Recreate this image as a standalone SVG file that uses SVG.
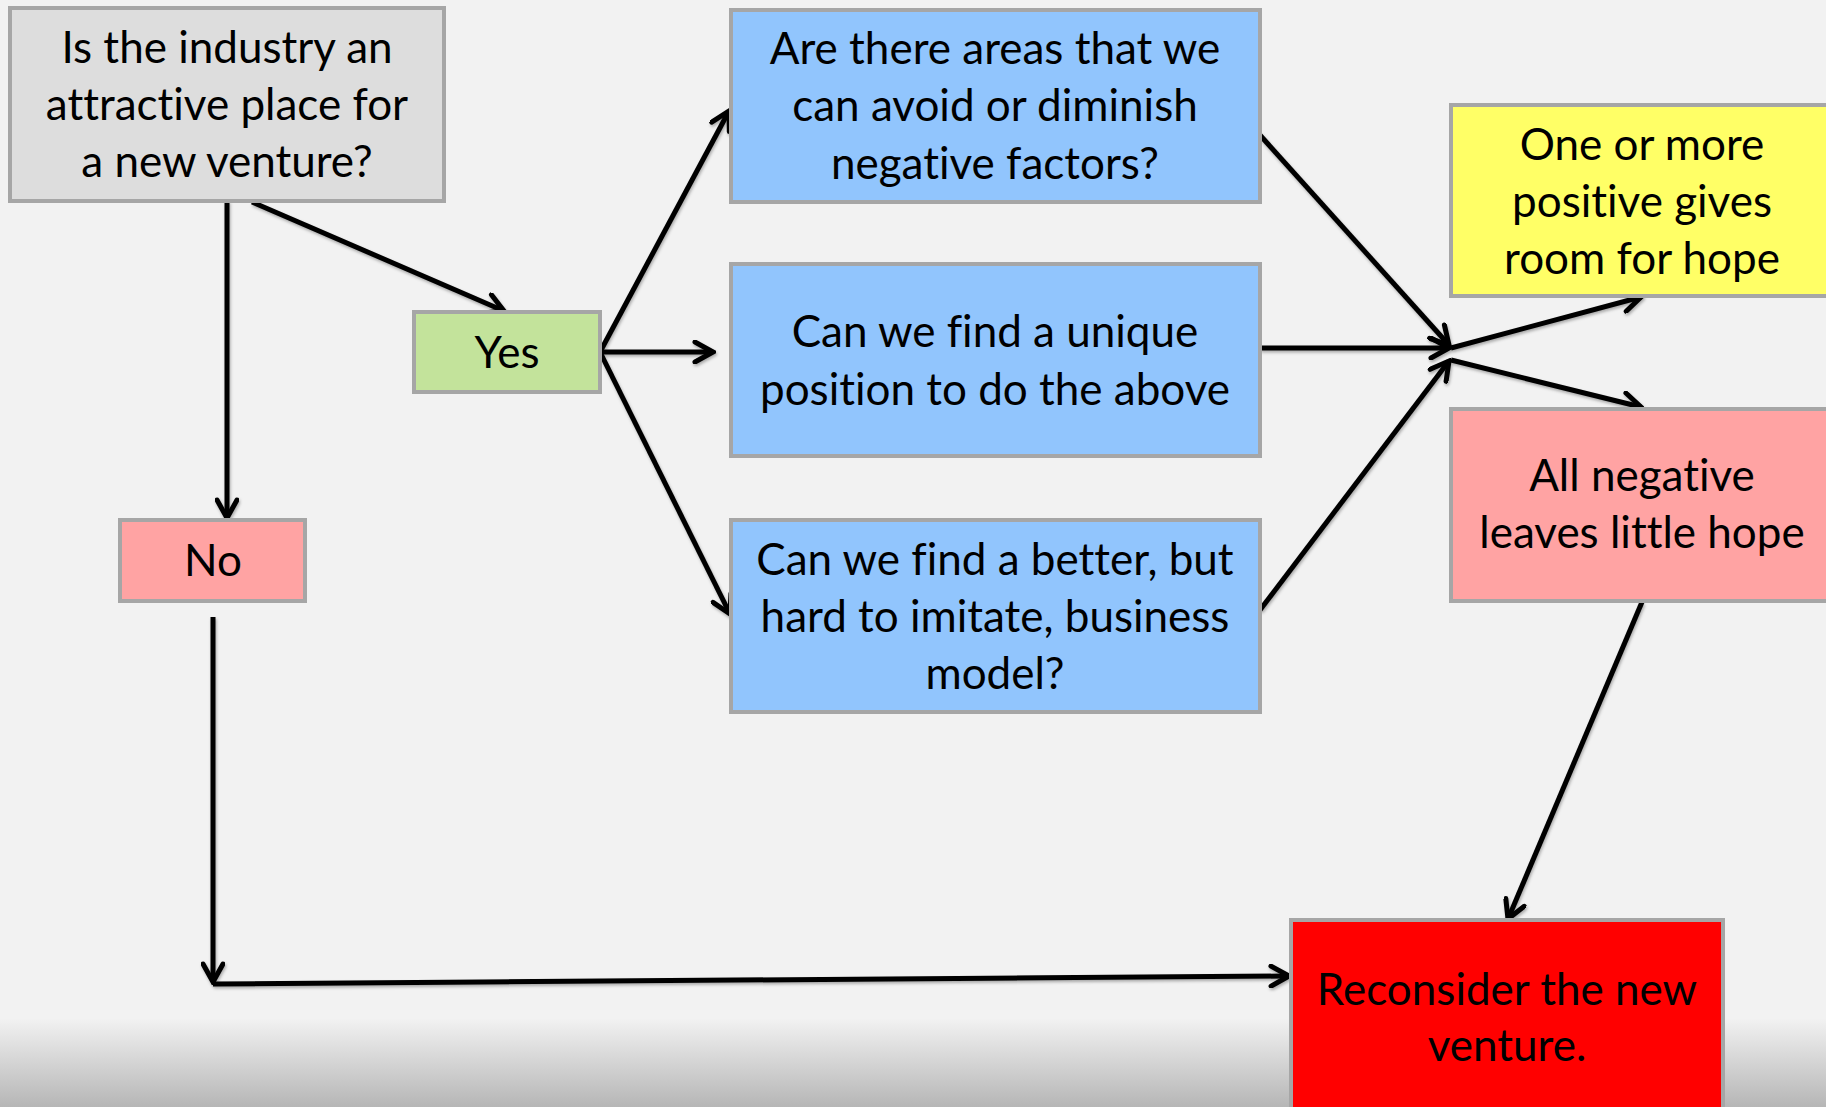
<svg xmlns="http://www.w3.org/2000/svg" width="1826" height="1107" viewBox="0 0 1826 1107">
<defs>
<linearGradient id="bg" x1="0" y1="0" x2="0" y2="1107" gradientUnits="userSpaceOnUse">
<stop offset="0" stop-color="#f2f2f2"/>
<stop offset="0.92" stop-color="#f2f2f2"/>
<stop offset="1" stop-color="#b6b6b6"/>
</linearGradient>
<marker id="arr" viewBox="0 0 24 24" refX="21" refY="12" markerWidth="24" markerHeight="24" markerUnits="userSpaceOnUse" orient="auto">
<path d="M3,2 L21,12 L3,22" fill="none" stroke="#000" stroke-width="5" stroke-linecap="round" stroke-linejoin="miter"/>
</marker>
<filter id="sh" x="-5%" y="-5%" width="110%" height="110%">
<feDropShadow dx="1" dy="2" stdDeviation="1.5" flood-color="#000" flood-opacity="0.3"/>
</filter>
</defs>
<style>
.box{stroke:#a6a6a6;stroke-width:4}
.t{font-family:Lato,"Liberation Sans",sans-serif;font-size:44px;fill:#000;text-anchor:middle;font-variant-ligatures:none}
.c{stroke:#000;stroke-width:5;fill:none;marker-end:url(#arr)}
</style>
<rect x="0" y="0" width="1826" height="1107" fill="url(#bg)"/>

<g id="connectors" filter="url(#sh)">
<line class="c" x1="227" y1="201" x2="227" y2="518"/>
<line class="c" x1="252" y1="202" x2="504" y2="311"/>
<line class="c" x1="600" y1="352" x2="729" y2="111"/>
<line class="c" x1="600" y1="352" x2="713" y2="352"/>
<line class="c" x1="600" y1="352" x2="730" y2="614"/>
<line class="c" x1="1259" y1="134" x2="1449" y2="345"/>
<line class="c" x1="1260" y1="348" x2="1449" y2="348"/>
<line class="c" x1="1260" y1="610" x2="1449" y2="361"/>
<line class="c" x1="1451" y1="348" x2="1641" y2="297"/>
<line class="c" x1="1451" y1="360" x2="1641" y2="407"/>
<line class="c" x1="1642" y1="602" x2="1508" y2="919"/>
<line class="c" x1="213" y1="617" x2="213" y2="982"/>
<line class="c" x1="213" y1="984" x2="1289" y2="976"/>
</g>

<g id="n-industry">
<rect class="box" x="10" y="8" width="434" height="193" fill="#dddddd"/>
<text class="t" x="227" y="63">Is the industry an</text>
<text class="t" x="227" y="120">attractive place for</text>
<text class="t" x="227" y="177">a new venture?</text>
</g>

<g id="n-yes">
<rect class="box" x="414" y="312" width="186" height="80" fill="#c3e39b"/>
<text class="t" x="507" y="368">Yes</text>
</g>

<g id="n-no">
<rect class="box" x="120" y="520" width="185" height="81" fill="#ffa3a3"/>
<text class="t" x="213" y="576">No</text>
</g>

<g id="n-avoid">
<rect class="box" x="731" y="10" width="529" height="192" fill="#91c5fd"/>
<text class="t" x="995" y="64">Are there areas that we</text>
<text class="t" x="995" y="121">can avoid or diminish</text>
<text class="t" x="995" y="179">negative factors?</text>
</g>

<g id="n-unique">
<rect class="box" x="731" y="264" width="529" height="192" fill="#91c5fd"/>
<text class="t" x="995" y="347">Can we find a unique</text>
<text class="t" x="995" y="405">position to do the above</text>
</g>

<g id="n-model">
<rect class="box" x="731" y="520" width="529" height="192" fill="#91c5fd"/>
<text class="t" x="995" y="575">Can we find a better, but</text>
<text class="t" x="995" y="632">hard to imitate, business</text>
<text class="t" x="995" y="689">model?</text>
</g>

<g id="n-positive">
<rect class="box" x="1451" y="105" width="400" height="191" fill="#ffff66"/>
<text class="t" x="1642" y="160">One or more</text>
<text class="t" x="1642" y="217">positive gives</text>
<text class="t" x="1642" y="274">room for hope</text>
</g>

<g id="n-negative">
<rect class="box" x="1451" y="409" width="400" height="192" fill="#ffa3a3"/>
<text class="t" x="1642" y="491">All negative</text>
<text class="t" x="1642" y="548">leaves little hope</text>
</g>

<g id="n-reconsider">
<rect class="box" x="1291" y="920" width="432" height="220" fill="#ff0000"/>
<text class="t" x="1507" y="1005">Reconsider the new</text>
<text class="t" x="1507" y="1061">venture.</text>
</g>
</svg>
